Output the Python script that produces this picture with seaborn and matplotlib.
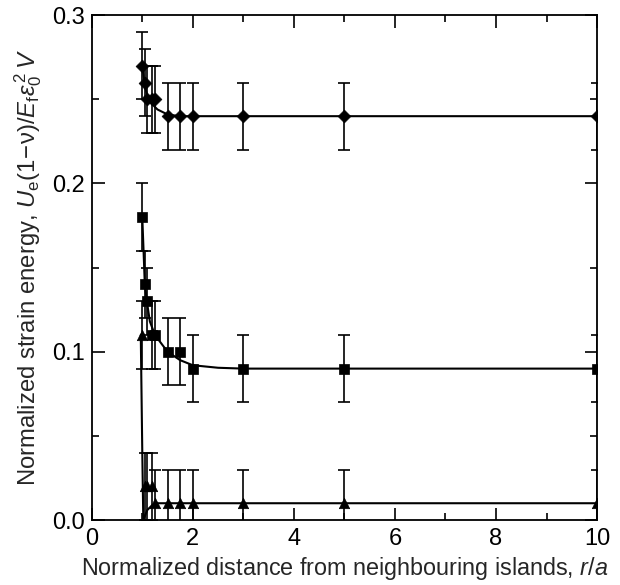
import matplotlib
matplotlib.use("Agg")
import matplotlib.pyplot as plt
from matplotlib.ticker import MultipleLocator
import seaborn as sns
import pandas as pd

# ---- data ----
r_over_a = [1.0, 1.05, 1.1, 1.2, 1.25, 1.5, 1.75, 2.0, 3.0, 5.0, 10.0]
energy_diamond = [0.27, 0.26, 0.25, 0.25, 0.25, 0.24, 0.24, 0.24, 0.24, 0.24, 0.24]
energy_square = [0.18, 0.14, 0.13, 0.11, 0.11, 0.10, 0.10, 0.09, 0.09, 0.09, 0.09]
energy_triangle = [0.11, 0.02, 0.02, 0.02, 0.01, 0.01, 0.01, 0.01, 0.01, 0.01, 0.01]
error_diamond = [0.02] * 11
error_square = [0.02] * 11
error_triangle = [0.02] * 11

# fitted curves
fit_x_diamond = [1.0, 1.05, 1.1, 1.2, 1.3, 1.5, 1.75, 2.0, 3.0, 5.0, 10.0]
fit_y_diamond = [0.27, 0.258, 0.252, 0.247, 0.244, 0.241, 0.240, 0.240, 0.240, 0.240, 0.240]
fit_x_square = [1.0, 1.05, 1.1, 1.15, 1.25, 1.5, 1.75, 2.0, 2.5, 3.0, 5.0, 10.0]
fit_y_square = [0.18, 0.14, 0.128, 0.118, 0.110, 0.100, 0.095, 0.092, 0.0905, 0.090, 0.090, 0.090]
fit_x_triangle = [0.97, 1.0, 1.02, 1.1, 1.2, 1.3, 1.5, 2.0, 3.0, 10.0]
fit_y_triangle = [0.11, 0.04, 0.0, 0.006, 0.009, 0.010, 0.010, 0.010, 0.010, 0.010]

x_ticks = [0, 2, 4, 6, 8, 10]
y_ticks = [0.0, 0.1, 0.2, 0.3]

sns.set_theme(style="ticks")
plt.rcParams["font.family"] = ["Liberation Sans", "DejaVu Sans"]
plt.rcParams["mathtext.fontset"] = "custom"
plt.rcParams["mathtext.rm"] = "Liberation Sans"
plt.rcParams["mathtext.it"] = "Liberation Sans:italic"
plt.rcParams["mathtext.bf"] = "Liberation Sans:bold"

fig = plt.figure(figsize=(6.2, 5.85), dpi=100)
ax = fig.add_axes([0.148, 0.111, 0.815, 0.863])

series = [
    (energy_diamond, error_diamond, fit_x_diamond, fit_y_diamond, "D", 6.5),
    (energy_square, error_square, fit_x_square, fit_y_square, "s", 6.5),
    (energy_triangle, error_triangle, fit_x_triangle, fit_y_triangle, "^", 7.5),
]

for yv, ev, fx, fy, mk, ms in series:
    fit_df = pd.DataFrame({"x": fx, "y": fy})
    sns.lineplot(data=fit_df, x="x", y="y", ax=ax, color="black", lw=1.5,
                 sort=False, estimator=None)
    ax.errorbar(r_over_a, yv, yerr=ev, fmt="none", ecolor="black",
                elinewidth=1.2, capsize=4, capthick=1.2, zorder=3)
    pts = pd.DataFrame({"x": r_over_a, "y": yv})
    sns.scatterplot(data=pts, x="x", y="y", ax=ax, marker=mk, s=ms ** 2,
                    color="black", edgecolor="black", linewidth=0.5, zorder=4)

ax.set_xlim(0, 10)
ax.set_ylim(0, 0.3)
ax.set_xticks(x_ticks)
ax.set_xticklabels([str(t) for t in x_ticks])
ax.set_yticks(y_ticks)
ax.set_yticklabels([f"{t:.1f}" for t in y_ticks])
ax.xaxis.set_minor_locator(MultipleLocator(1))
ax.yaxis.set_minor_locator(MultipleLocator(0.05))
ax.tick_params(which="both", direction="in", top=True, right=True,
               colors="black", width=1.2, labelsize=17)
ax.tick_params(which="major", length=9, pad=5)
ax.tick_params(axis="x", which="major", pad=6)
ax.tick_params(which="minor", length=5)
for sp in ax.spines.values():
    sp.set_linewidth(1.3)
    sp.set_color("black")

ax.set_xlabel("Normalized distance from neighbouring islands, $\\it{r/a}$",
              fontsize=16.8, labelpad=3)
ax.set_ylabel("Normalized strain energy, $U_{\\mathrm{e}}(1\\!-\\!\\mathrm{\\nu})/E_{\\mathrm{f}}\\epsilon_0^{\\,2}\\,V$",
              fontsize=17.2, labelpad=6)

fig.savefig("out.png", dpi=100)
